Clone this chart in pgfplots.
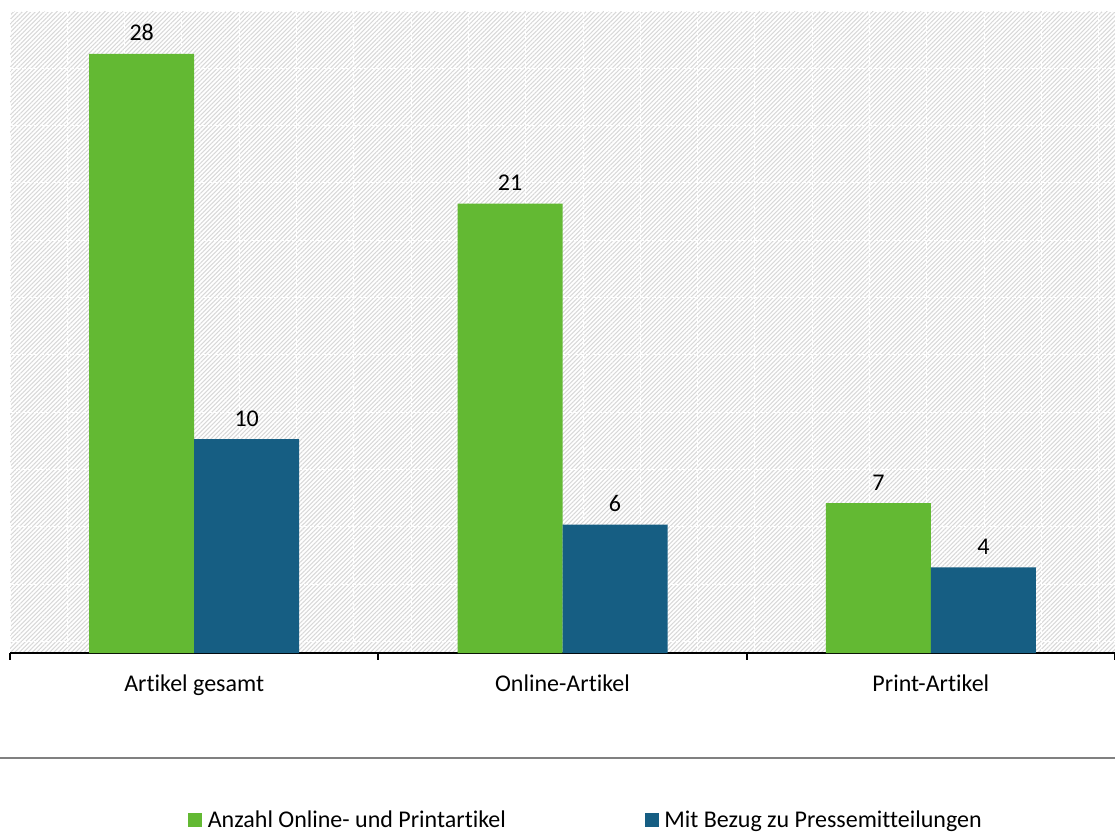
\documentclass[border=0pt]{standalone}
\usepackage{fontspec}
\setmainfont{Carlito}[Ligatures=NoCommon]
\usepackage{pgfplots}
\pgfplotsset{compat=1.18}
\usetikzlibrary{patterns.meta}
\definecolor{barGreen}{RGB}{99,185,51}
\definecolor{barBlue}{RGB}{22,94,131}
\definecolor{hatchGray}{RGB}{216,216,216}
\definecolor{ruleGray}{RGB}{128,128,128}
\begin{document}
\begin{tikzpicture}[font=\fontsize{18pt}{21pt}\selectfont]
  % page frame
  \path[use as bounding box] (0,0) rectangle (836.25pt,-624pt);
  % hatched plot area with light dashed grid
  \fill[pattern={Lines[angle=45,distance=2.3pt,line width=0.8pt]}, pattern color=hatchGray]
    (7.5pt,-8.25pt) rectangle (836.25pt,-489.75pt);
  \draw[shift={(7.5pt,-8.25pt)}, white, line width=0.6pt, dash pattern=on 3pt off 1.5pt, step=42.97pt]
    (0,0) grid (828.75pt,-481.5pt);
  % rule above the legend
  \draw[ruleGray, line width=1.1pt] (0,-568.5pt) -- (836.25pt,-568.5pt);
  \begin{axis}[
    at={(7.5pt,-489.75pt)}, anchor=south west,
    scale only axis, width=828.75pt, height=481.5pt,
    xmin=-0.5, xmax=2.5, ymin=0, ymax=30,
    enlargelimits=false, clip=false,
    axis y line=none, axis x line=bottom,
    axis line style={-, black, line width=1.4pt},
    ybar=0pt, bar width=78.75pt,
    xtick={0,1,2},
    xticklabels={Artikel gesamt, Online-Artikel, Print-Artikel},
    xtick style={black, line width=1.4pt},
    major tick length=0pt,
    tick align=outside,
    extra x ticks={-0.5,0.5,1.5,2.5},
    extra x tick labels={},
    extra x tick style={major tick length=5pt},
    xticklabel style={font=\fontsize{18pt}{21pt}\selectfont, yshift=-12.5pt},
    /pgf/number format/assume math mode=true,
    nodes near coords,
    every node near coord/.append style={font=\fontsize{18pt}{21pt}\selectfont, black, yshift=6pt},
    legend columns=2,
    legend style={at={(0.161,-0.26)}, anchor=west, draw=none, fill=none, inner xsep=0pt,
      font=\fontsize{18pt}{21pt}\selectfont,
      /tikz/every odd column/.append style={column sep=2.25pt},
      /tikz/every even column/.append style={column sep=102pt}},
    legend image code/.code={\fill[#1] (0pt,-5.25pt) rectangle (10.5pt,5.25pt);},
  ]
    \addplot[fill=barGreen, draw=none] coordinates {(0,28) (1,21) (2,7)};
    \addlegendentry{Anzahl Online- und Printartikel}
    \addplot[fill=barBlue, draw=none] coordinates {(0,10) (1,6) (2,4)};
    \addlegendentry{Mit Bezug zu Pressemitteilungen}
  \end{axis}
\end{tikzpicture}
\end{document}
